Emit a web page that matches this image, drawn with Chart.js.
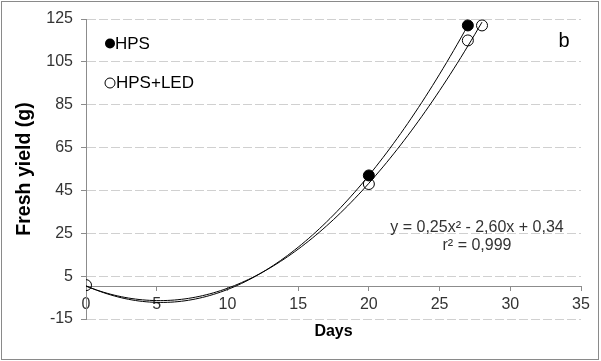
<!DOCTYPE html>
<html>
<head>
<meta charset="utf-8">
<script src="https://cdn.jsdelivr.net/npm/chart.js@4/dist/chart.umd.min.js"></script>
<style>
    html, body { margin: 0; padding: 0; background: #fff; }
    #wrap { width: 601px; height: 361px; }
</style>
</head>
<body>
<div id="wrap"><canvas id="chart" width="601" height="361"></canvas></div>
<script>
// Data ------------------------------------------------------------------------------

const hpsDays = [20, 27];
const hpsYield = [52, 122];

const ledDays = [0, 20, 27, 28];
const ledYield = [0.8, 48, 115, 122];

// polynomial trendlines: [a, b, c] for a*x^2 + b*x + c, and the day range they span
const hpsFit = [0.275, -2.925, 0.5];
const hpsFitRange = [0, 27];
const ledFit = [0.25, -2.60, 0.34];
const ledFitRange = [0, 28];

const xTicks = [0, 35, 5];
const yTicks = [-15, 125, 20];

const equationText = 'y = 0,25x² - 2,60x + 0,34';
const r2Text = 'r² = 0,999';

// Constants ------------------------------------------------------------------------------

const FONT = '"Liberation Sans", Arial, sans-serif';
const TEXT_COLOR = '#333333';
const GRID_COLOR = '#d0d0d0';
const AXIS_COLOR = '#8c8c8c';
const POINT_RADIUS = 5.5;

// Helpers ------------------------------------------------------------------------------

let toPoints = function (xs, ys) {
    return xs.map(function (x, i) {
        return {x: x, y: ys[i]};
    });
};

let trendPoints = function (coef, range) {
    let pts = [];
    for (let x = range[0]; x <= range[1] + 1e-9; x += 0.25) {
        pts.push({x: x, y: coef[0] * x * x + coef[1] * x + coef[2]});
    }
    return pts;
};

// Annotation plugin: legend, panel letter, equation, x title, frame ---------------

const annotations = {
    id: 'annotations',
    afterDraw: function (chart) {
        let ctx = chart.ctx;
        ctx.save();

        // outer frame
        ctx.strokeStyle = '#8a8a8a';
        ctx.lineWidth = 1;
        ctx.strokeRect(1.5, 1.5, 597, 358);

        // legend inside plot
        ctx.strokeStyle = '#000';
        ctx.fillStyle = '#000';
        ctx.beginPath();
        ctx.arc(110, 43.5, 5, 0, Math.PI * 2);
        ctx.fill();
        ctx.beginPath();
        ctx.arc(110, 83, 5, 0, Math.PI * 2);
        ctx.stroke();

        ctx.font = '17px ' + FONT;
        ctx.textAlign = 'left';
        ctx.textBaseline = 'middle';
        ctx.fillText('HPS', 115, 44);
        ctx.fillText('HPS+LED', 116, 83);

        // panel letter
        ctx.font = '20px ' + FONT;
        ctx.textAlign = 'center';
        ctx.fillText('b', 564, 41);

        // regression text
        ctx.font = '16px ' + FONT;
        ctx.fillStyle = TEXT_COLOR;
        ctx.fillText(equationText, 477, 228);
        ctx.fillText(r2Text, 477, 246);

        // x title
        ctx.font = 'bold 16px ' + FONT;
        ctx.fillStyle = '#000';
        let area = chart.chartArea;
        ctx.fillText('Days', (area.left + area.right) / 2, 332);

        ctx.restore();
    }
};

// Chart ------------------------------------------------------------------------------

const chart = new Chart(document.getElementById('chart').getContext('2d'), {
    type: 'scatter',
    data: {
        datasets: [
            {
                label: 'HPS',
                data: toPoints(hpsDays, hpsYield),
                pointRadius: POINT_RADIUS,
                pointBackgroundColor: '#000',
                pointBorderColor: '#000',
                pointBorderWidth: 1,
                showLine: false,
                order: 1
            },
            {
                label: 'HPS+LED',
                data: toPoints(ledDays, ledYield),
                pointRadius: POINT_RADIUS,
                pointBackgroundColor: 'rgba(0,0,0,0)',
                pointBorderColor: '#000',
                pointBorderWidth: 1,
                showLine: false,
                order: 2
            },
            {
                label: 'HPS fit',
                data: trendPoints(hpsFit, hpsFitRange),
                showLine: true,
                borderColor: '#000',
                borderWidth: 1,
                pointRadius: 0,
                tension: 0,
                order: 3
            },
            {
                label: 'HPS+LED fit',
                data: trendPoints(ledFit, ledFitRange),
                showLine: true,
                borderColor: '#000',
                borderWidth: 1,
                pointRadius: 0,
                tension: 0,
                order: 3
            }
        ]
    },
    options: {
        responsive: false,
        animation: false,
        layout: {
            padding: {left: 0, top: 19, right: 20, bottom: 42}
        },
        plugins: {
            legend: {display: false},
            tooltip: {enabled: false}
        },
        scales: {
            x: {
                type: 'linear',
                position: {y: 0},
                min: xTicks[0],
                max: xTicks[1],
                ticks: {
                    stepSize: xTicks[2],
                    color: TEXT_COLOR,
                    font: {family: FONT, size: 16},
                    padding: 4,
                    maxRotation: 0
                },
                grid: {
                    drawOnChartArea: false,
                    drawTicks: true,
                    tickLength: 4,
                    color: AXIS_COLOR
                },
                border: {display: true, color: AXIS_COLOR, width: 1}
            },
            y: {
                type: 'linear',
                position: 'left',
                min: yTicks[0],
                max: yTicks[1],
                afterFit: function (scale) {
                    scale.width = 86;
                },
                ticks: {
                    stepSize: yTicks[2],
                    color: TEXT_COLOR,
                    font: {family: FONT, size: 16},
                    padding: 8
                },
                grid: {
                    color: GRID_COLOR,
                    tickColor: AXIS_COLOR,
                    tickLength: 5,
                    tickBorderDash: []
                },
                border: {display: true, color: AXIS_COLOR, width: 1, dash: [9, 3]},
                title: {
                    display: true,
                    text: 'Fresh yield (g)',
                    color: '#000',
                    font: {family: FONT, size: 19.5, weight: 'bold'},
                    padding: {top: 13, bottom: 0}
                }
            }
        }
    },
    plugins: [annotations]
});
</script>
</body>
</html>
